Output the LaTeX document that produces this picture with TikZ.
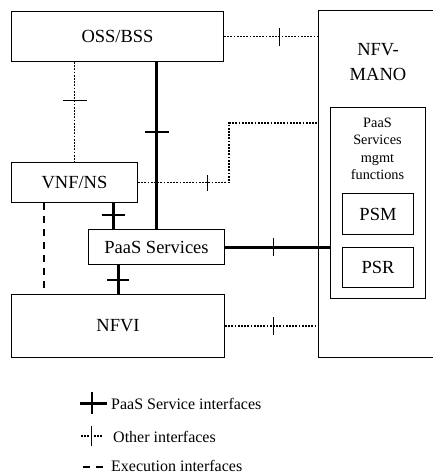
\documentclass[tikz,border=0pt]{standalone}
\usepackage{fontspec}
\setmainfont{Liberation Serif}
\usetikzlibrary{decorations.markings}
\begin{document}
\begin{tikzpicture}[x=1pt,y=-1pt,
  box/.style={draw, line width=1pt, inner sep=0pt, anchor=north west, align=center,
    font=\fontsize{18.5}{22}\selectfont},
  psi/.style={line width=3pt},
  other/.style={line width=1.8pt, dash pattern=on 1.8pt off 1.4pt},
  exec/.style={line width=1.5pt, dash pattern=on 7pt off 6pt},
  tickat/.style n args={3}{postaction={decorate, decoration={markings,
    mark=at position #1 with {\draw[line width=#3, solid] (0pt,-#2) -- (0pt,#2);}}}},
  legend/.style={anchor=base west, inner sep=0pt, font=\fontsize{16}{19}\selectfont}]
\useasboundingbox (0,0) rectangle (432,474);

% functional blocks
\node[box, minimum width=212pt, minimum height=50pt] (oss) at (11,11) {OSS/BSS};
\node[box, minimum width=126pt, minimum height=40pt] (vnf) at (11,162) {VNF/NS};
\node[box, minimum width=136pt, minimum height=35pt] (paas) at (88,229) {PaaS Services};
\node[box, minimum width=213pt, minimum height=63pt] (nfvi) at (11,294) {NFVI};

% NFV-MANO and its PaaS management functions
\node[box, minimum width=120pt, minimum height=347pt] (mano) at (318,10) {};
\node[align=center, inner sep=0pt, font=\fontsize{18.5}{25}\selectfont] (manolbl) at (378,62) {NFV-\\MANO};
\node[box, minimum width=95pt, minimum height=191pt] (mgmt) at (330,107) {};
\node[align=center, inner sep=0pt, font=\fontsize{14.3}{17.5}\selectfont] (mgmtlbl) at (377.5,149) {PaaS\\Services\\mgmt\\functions};
\node[box, minimum width=71pt, minimum height=41pt] (psm) at (342,193) {PSM};
\node[box, minimum width=71pt, minimum height=40pt] (psr) at (342,247) {PSR};

% interfaces
\draw[other, tickat={0.59}{9pt}{1pt}] (oss.east) -- (oss.east -| mano.west);
\draw[other, tickat={0.386}{12pt}{1pt}] (oss.south -| vnf.north) -- (vnf.north);
\draw[psi, tickat={0.42}{12pt}{1.5pt}] (oss.south -| paas.north) -- (paas.north);
\coordinate (bend) at (229,123);
\draw[other, tickat={0.29}{8pt}{1pt}] (vnf.east) -| (bend) -- (bend -| mano.west);
\coordinate (vp) at ([xshift=102pt]vnf.south west);
\draw[psi, tickat={0.48}{11.5pt}{2pt}] (vp) -- (vp |- paas.north);
\coordinate (vn) at ([xshift=33pt]vnf.south west);
\draw[exec] (vn) -- (vn |- nfvi.north);
\coordinate (pn) at ([xshift=30pt]paas.south west);
\draw[psi, tickat={0.53}{11pt}{2pt}] (pn) -- (pn |- nfvi.north);
\draw[psi, tickat={0.46}{9pt}{1pt}] (paas.east) -- (paas.east -| mgmt.west);
\draw[other, tickat={0.52}{9pt}{1pt}] (nfvi.east) -- (nfvi.east -| mano.west);

% legend
\coordinate (l1a) at (80,403); \coordinate (l1b) at (107,403);
\draw[psi, tickat={0.44}{11pt}{2pt}] (l1a) -- (l1b);
\node[legend] (l1) at (111,409) {PaaS Service interfaces};
\coordinate (l2a) at (81,436); \coordinate (l2b) at (102,436);
\draw[other, tickat={0.52}{10pt}{1pt}] (l2a) -- (l2b);
\node[legend] (l2) at (113,442.5) {Other interfaces};
\coordinate (l3a) at (83,467); \coordinate (l3b) at (106,467);
\draw[exec] (l3a) -- (l3b);
\node[legend] (l3) at (111,471.5) {Execution interfaces};
\end{tikzpicture}
\end{document}
